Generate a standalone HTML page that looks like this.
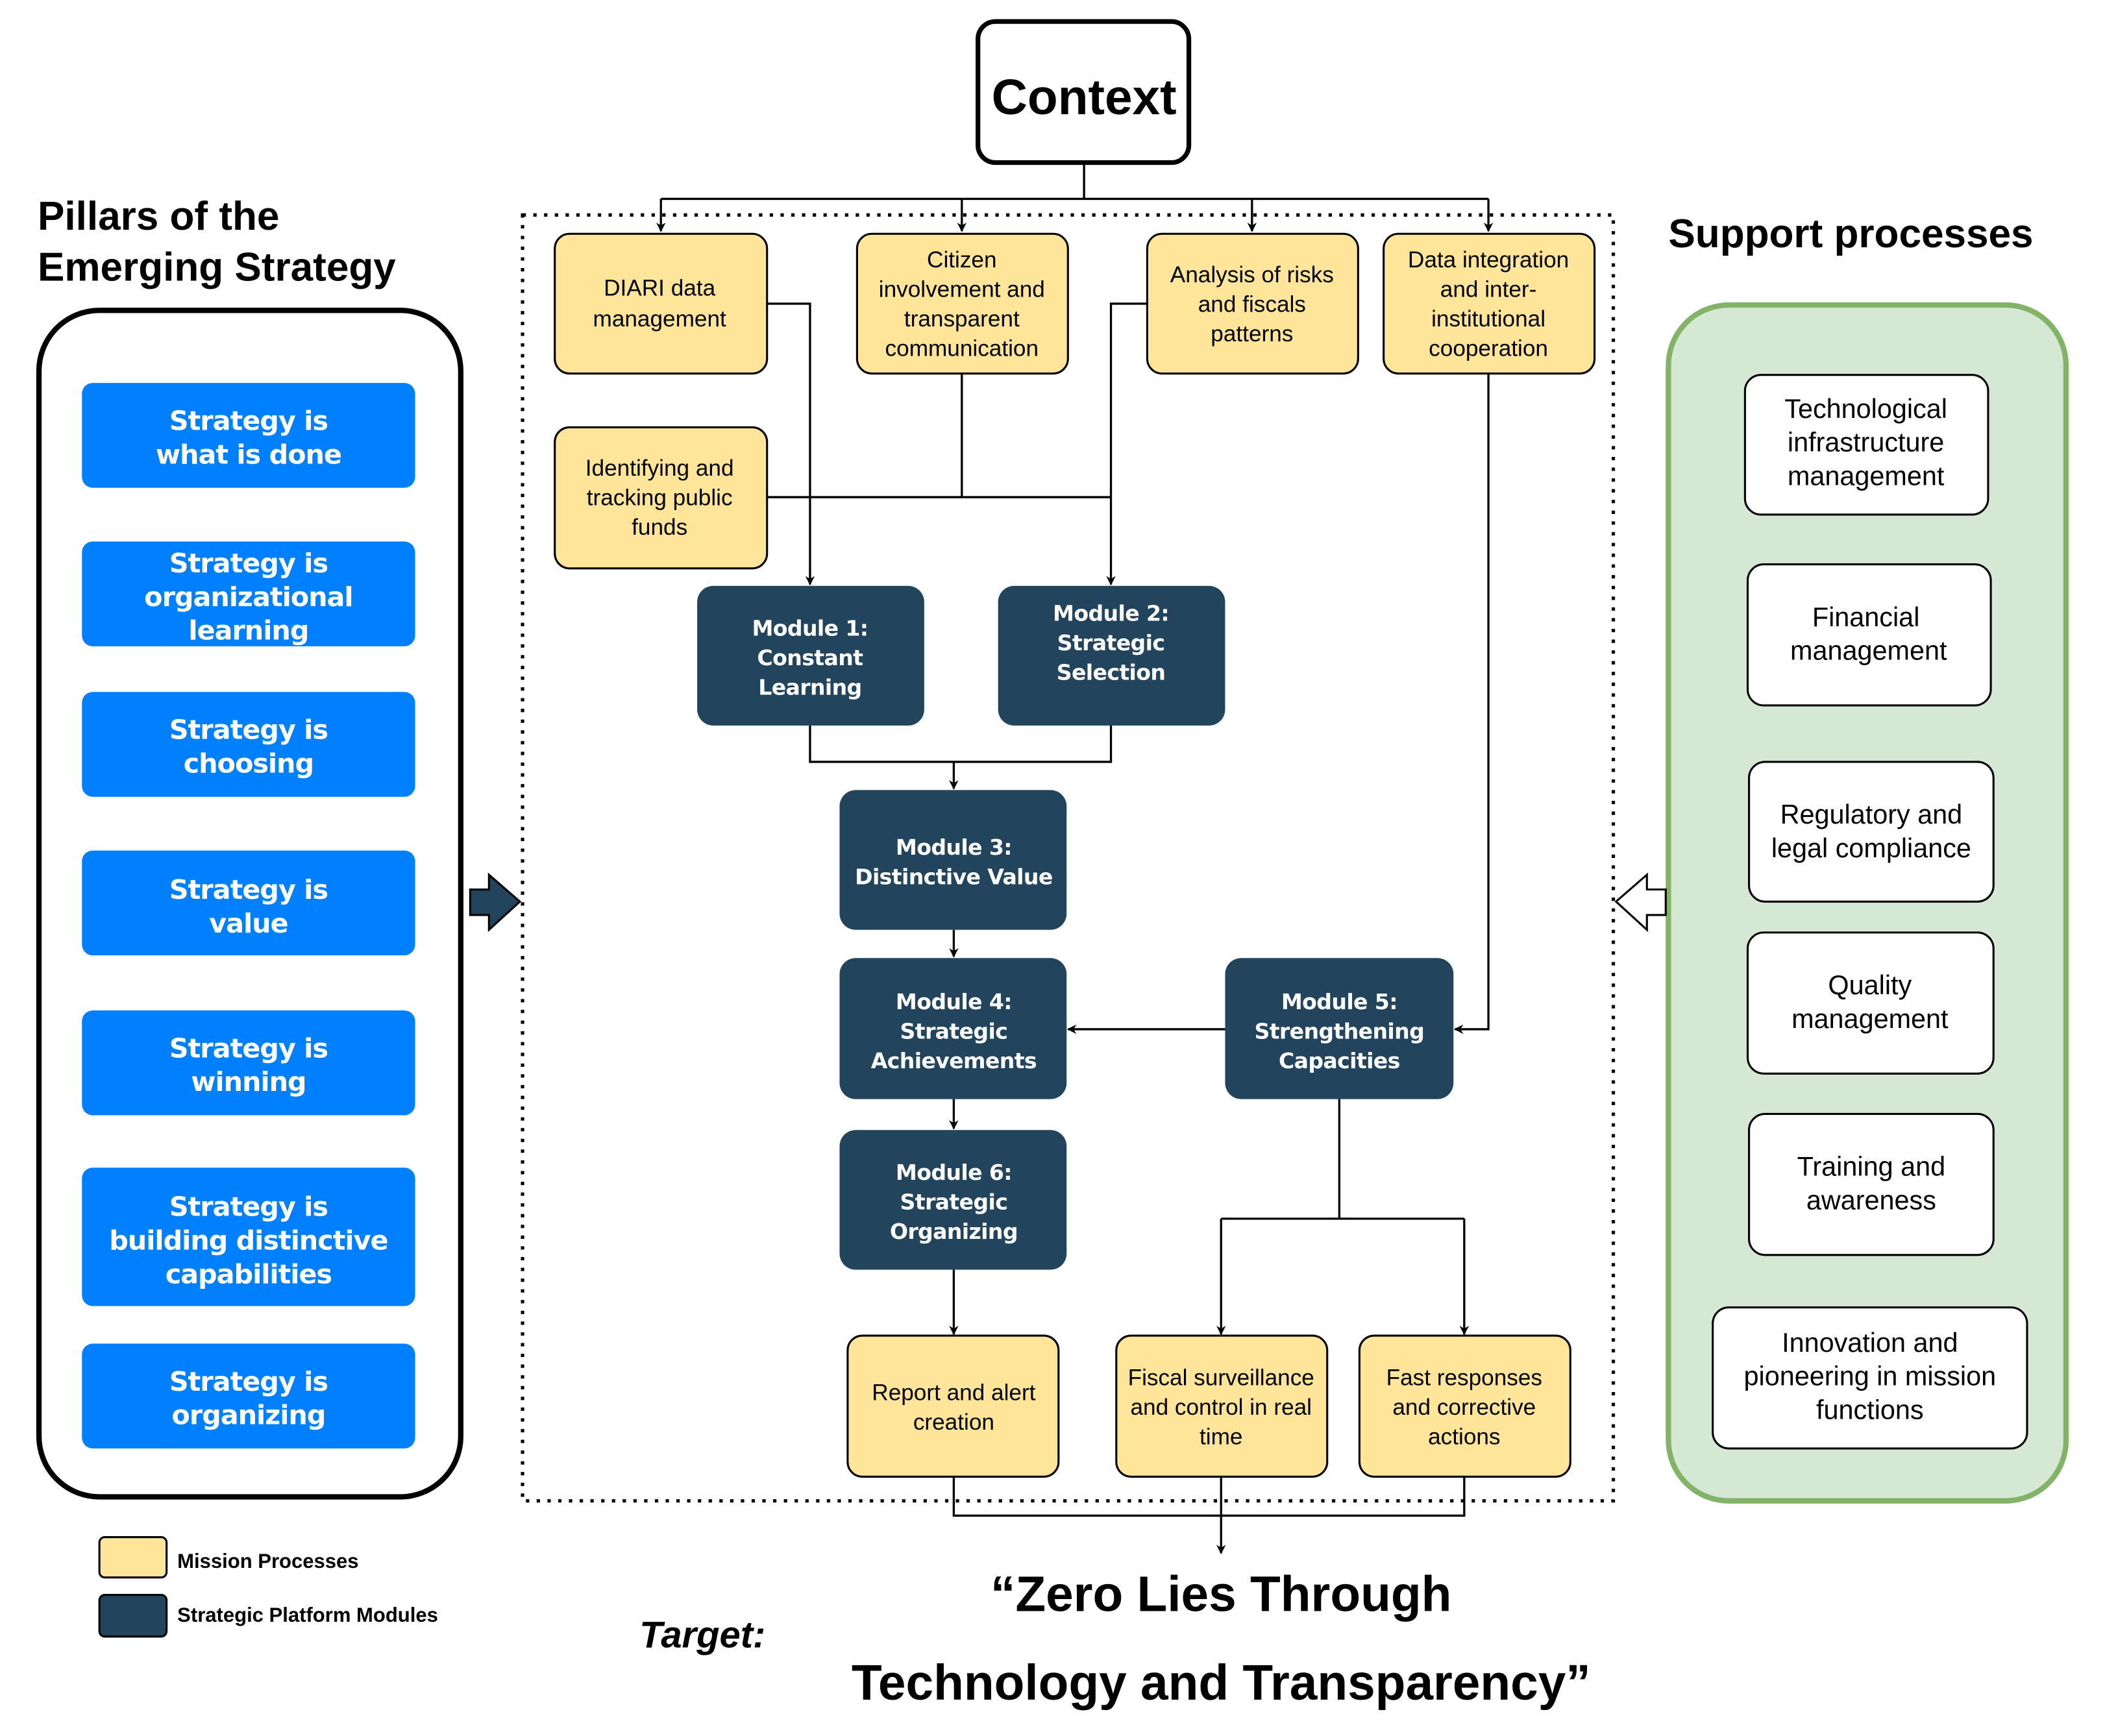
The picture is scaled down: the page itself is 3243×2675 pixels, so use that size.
<!DOCTYPE html>
<html><head><meta charset="utf-8"><style>
html,body{margin:0;padding:0;background:#fff}
svg{display:block}
.y{fill:#ffe599;stroke:#000;stroke-width:1.5}
.d{fill:#23445d}
.b{fill:#007fff}
.w{fill:#fff;stroke:#000;stroke-width:1.5}
.t{font-family:"Liberation Sans",sans-serif;font-size:17px;fill:#000;text-anchor:middle}
.m{font-family:"DejaVu Sans",sans-serif;font-weight:bold;font-size:16px;fill:#fff;text-anchor:middle;letter-spacing:-0.3px}
.p{font-family:"DejaVu Sans",sans-serif;font-weight:bold;font-size:20px;fill:#fff;text-anchor:middle;letter-spacing:-0.5px}
.s{font-family:"Liberation Sans",sans-serif;font-size:20px;fill:#000;text-anchor:middle}
.l{stroke:#000;stroke-width:1.6;fill:none}
</style></head><body>
<svg width="3243" height="2675" viewBox="0 0 1567 1292" preserveAspectRatio="none" xmlns="http://www.w3.org/2000/svg">
<defs><marker id="a" viewBox="0 0 10 10" refX="9" refY="5" markerWidth="7" markerHeight="7" orient="auto-start-reverse" markerUnits="userSpaceOnUse"><path d="M0,0 L10,5 L0,10 L3,5 z" fill="#000"/></marker></defs>

<!-- Context -->
<rect x="728" y="16" width="157" height="105" rx="13" fill="#fff" stroke="#000" stroke-width="3.5"/>
<text x="807" y="85" font-family="Liberation Sans,sans-serif" font-weight="bold" font-size="37" text-anchor="middle">Context</text>
<path class="l" d="M807,121 V148 M492,148 H1108"/>
<path class="l" marker-end="url(#a)" d="M492,148 V172"/>
<path class="l" marker-end="url(#a)" d="M716,148 V172"/>
<path class="l" marker-end="url(#a)" d="M932,148 V172"/>
<path class="l" marker-end="url(#a)" d="M1108,148 V172"/>

<rect x="389" y="160" width="812" height="957" fill="none" stroke="#000" stroke-width="2.5" stroke-dasharray="2.5,5.5"/>

<!-- connectors -->
<path class="l" marker-end="url(#a)" d="M571,226 H603 V435"/>
<path class="l" d="M716,278 V370 M571,370 H827"/>
<path class="l" marker-end="url(#a)" d="M854,226 H827 V435"/>
<path class="l" marker-end="url(#a)" d="M1108,278 V766 H1083"/>
<path class="l" d="M603,540 V567 H827 V540"/>
<path class="l" marker-end="url(#a)" d="M710,567 V587"/>
<path class="l" marker-end="url(#a)" d="M710,692 V712"/>
<path class="l" marker-end="url(#a)" d="M912,766 H795"/>
<path class="l" marker-end="url(#a)" d="M710,818 V840"/>
<path class="l" marker-end="url(#a)" d="M710,945 V993"/>
<path class="l" d="M997,818 V907 M909,907 H1090"/>
<path class="l" marker-end="url(#a)" d="M909,907 V993"/>
<path class="l" marker-end="url(#a)" d="M1090,907 V993"/>
<path class="l" d="M710,1099 V1128 H1090 V1099"/>
<path class="l" marker-end="url(#a)" d="M909,1099 V1156"/>

<!-- yellow boxes -->
<rect class="y" x="413" y="174" width="158" height="104" rx="11"/>
<text class="t" x="491" y="220">DIARI data</text><text class="t" x="491" y="243">management</text>
<rect class="y" x="638" y="174" width="157" height="104" rx="11"/>
<text class="t" x="716" y="199">Citizen</text><text class="t" x="716" y="221">involvement and</text><text class="t" x="716" y="243">transparent</text><text class="t" x="716" y="265">communication</text>
<rect class="y" x="854" y="174" width="157" height="104" rx="11"/>
<text class="t" x="932" y="210">Analysis of risks</text><text class="t" x="932" y="232">and fiscals</text><text class="t" x="932" y="254">patterns</text>
<rect class="y" x="1030" y="174" width="157" height="104" rx="11"/>
<text class="t" x="1108" y="199">Data integration</text><text class="t" x="1108" y="221">and inter-</text><text class="t" x="1108" y="243">institutional</text><text class="t" x="1108" y="265">cooperation</text>
<rect class="y" x="413" y="318" width="158" height="105" rx="11"/>
<text class="t" x="491" y="354">Identifying and</text><text class="t" x="491" y="376">tracking public</text><text class="t" x="491" y="398">funds</text>

<rect class="y" x="631" y="994" width="157" height="105" rx="11"/>
<text class="t" x="710" y="1042">Report and alert</text><text class="t" x="710" y="1064">creation</text>
<rect class="y" x="831" y="994" width="157" height="105" rx="11"/>
<text class="t" x="909" y="1031">Fiscal surveillance</text><text class="t" x="909" y="1053">and control in real</text><text class="t" x="909" y="1075">time</text>
<rect class="y" x="1012" y="994" width="157" height="105" rx="11"/>
<text class="t" x="1090" y="1031">Fast responses</text><text class="t" x="1090" y="1053">and corrective</text><text class="t" x="1090" y="1075">actions</text>

<!-- modules -->
<rect class="d" x="519" y="436" width="169" height="104" rx="12"/>
<text class="m" x="603" y="473">Module 1:</text><text class="m" x="603" y="495">Constant</text><text class="m" x="603" y="517">Learning</text>
<rect class="d" x="743" y="436" width="169" height="104" rx="12"/>
<text class="m" x="827" y="462">Module 2:</text><text class="m" x="827" y="484">Strategic</text><text class="m" x="827" y="506">Selection</text>
<rect class="d" x="625" y="588" width="169" height="104" rx="12"/>
<text class="m" x="710" y="636">Module 3:</text><text class="m" x="710" y="658">Distinctive Value</text>
<rect class="d" x="625" y="713" width="169" height="105" rx="12"/>
<text class="m" x="710" y="751">Module 4:</text><text class="m" x="710" y="773">Strategic</text><text class="m" x="710" y="795">Achievements</text>
<rect class="d" x="912" y="713" width="170" height="105" rx="12"/>
<text class="m" x="997" y="751">Module 5:</text><text class="m" x="997" y="773">Strengthening</text><text class="m" x="997" y="795">Capacities</text>
<rect class="d" x="625" y="841" width="169" height="104" rx="12"/>
<text class="m" x="710" y="878">Module 6:</text><text class="m" x="710" y="900">Strategic</text><text class="m" x="710" y="922">Organizing</text>

<!-- left panel -->
<text x="28" y="171" font-family="Liberation Sans,sans-serif" font-weight="bold" font-size="30">Pillars of the</text>
<text x="28" y="209" font-family="Liberation Sans,sans-serif" font-weight="bold" font-size="30">Emerging Strategy</text>
<rect x="29" y="231" width="314" height="883" rx="45" fill="#fff" stroke="#000" stroke-width="4"/>
<rect class="b" x="61" y="285" width="248" height="78" rx="8"/>
<text class="p" x="185" y="320">Strategy is</text><text class="p" x="185" y="345">what is done</text>
<rect class="b" x="61" y="403" width="248" height="78" rx="8"/>
<text class="p" x="185" y="426">Strategy is</text><text class="p" x="185" y="451">organizational</text><text class="p" x="185" y="476">learning</text>
<rect class="b" x="61" y="515" width="248" height="78" rx="8"/>
<text class="p" x="185" y="550">Strategy is</text><text class="p" x="185" y="575">choosing</text>
<rect class="b" x="61" y="633" width="248" height="78" rx="8"/>
<text class="p" x="185" y="669">Strategy is</text><text class="p" x="185" y="694">value</text>
<rect class="b" x="61" y="752" width="248" height="78" rx="8"/>
<text class="p" x="185" y="787">Strategy is</text><text class="p" x="185" y="812">winning</text>
<rect class="b" x="61" y="869" width="248" height="103" rx="8"/>
<text class="p" x="185" y="905">Strategy is</text><text class="p" x="185" y="930">building distinctive</text><text class="p" x="185" y="955">capabilities</text>
<rect class="b" x="61" y="1000" width="248" height="78" rx="8"/>
<text class="p" x="185" y="1035">Strategy is</text><text class="p" x="185" y="1060">organizing</text>

<path d="M350,662 H364 V651 L387,671 L364,692 V681 H350 Z" fill="#23445d" stroke="#000" stroke-width="1.5"/>

<!-- right panel -->
<text x="1242" y="184" font-family="Liberation Sans,sans-serif" font-weight="bold" font-size="30">Support processes</text>
<rect x="1242" y="227" width="296" height="890" rx="45" fill="#d5e8d4" stroke="#82b366" stroke-width="4"/>
<rect class="w" x="1299" y="279" width="181" height="104" rx="12"/>
<text class="s" x="1389" y="311">Technological</text><text class="s" x="1389" y="336">infrastructure</text><text class="s" x="1389" y="361">management</text>
<rect class="w" x="1301" y="420" width="181" height="105" rx="12"/>
<text class="s" x="1389" y="466">Financial</text><text class="s" x="1391" y="491">management</text>
<rect class="w" x="1302" y="567" width="182" height="104" rx="12"/>
<text class="s" x="1393" y="613">Regulatory and</text><text class="s" x="1393" y="638">legal compliance</text>
<rect class="w" x="1301" y="694" width="183" height="105" rx="12"/>
<text class="s" x="1392" y="740">Quality</text><text class="s" x="1392" y="765">management</text>
<rect class="w" x="1302" y="829" width="182" height="105" rx="12"/>
<text class="s" x="1393" y="875">Training and</text><text class="s" x="1393" y="900">awareness</text>
<rect class="w" x="1275" y="973" width="234" height="105" rx="12"/>
<text class="s" x="1392" y="1006">Innovation and</text><text class="s" x="1392" y="1031">pioneering in mission</text><text class="s" x="1392" y="1056">functions</text>

<path d="M1240,662 H1226 V651 L1203,671 L1226,692 V681 H1240 Z" fill="#fff" stroke="#000" stroke-width="1.5"/>

<!-- legend -->
<rect x="74" y="1144" width="50" height="30" rx="4" fill="#ffe599" stroke="#000" stroke-width="1.5"/>
<text x="132" y="1167" font-family="Liberation Sans,sans-serif" font-weight="bold" font-size="15">Mission Processes</text>
<rect x="74" y="1187" width="50" height="31" rx="4" fill="#23445d" stroke="#000" stroke-width="1.5"/>
<text x="132" y="1207" font-family="Liberation Sans,sans-serif" font-weight="bold" font-size="15">Strategic Platform Modules</text>

<!-- target -->
<text x="476" y="1226" font-family="Liberation Sans,sans-serif" font-weight="bold" font-style="italic" font-size="28">Target:</text>
<text x="909" y="1199" font-family="Liberation Sans,sans-serif" font-weight="bold" font-size="37" text-anchor="middle">“Zero Lies Through</text>
<text x="909" y="1265" font-family="Liberation Sans,sans-serif" font-weight="bold" font-size="37" text-anchor="middle">Technology and Transparency”</text>
</svg>
</body></html>
